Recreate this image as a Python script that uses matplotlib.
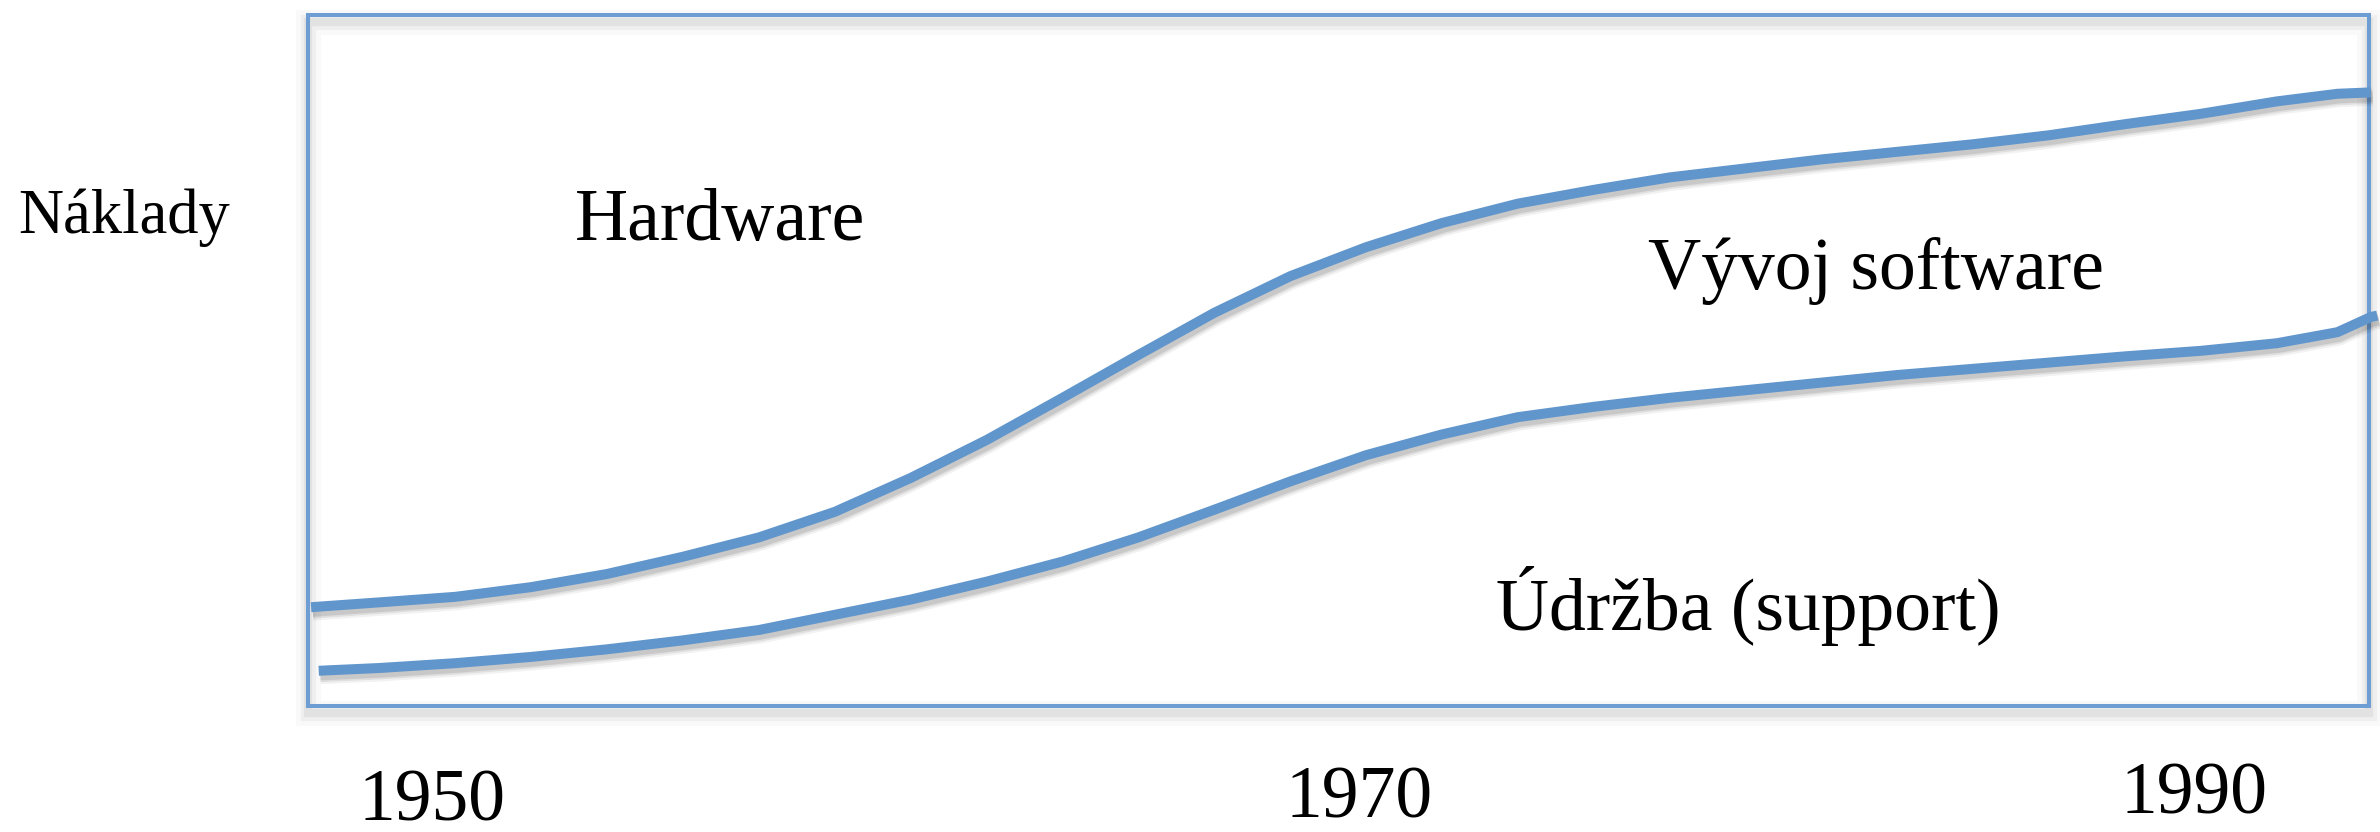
import matplotlib
matplotlib.use("Agg")
import matplotlib.pyplot as plt
from matplotlib import patheffects as pe
from matplotlib.patches import Rectangle
from matplotlib.transforms import blended_transform_factory

plt.rcParams['font.family'] = ['Liberation Serif', 'DejaVu Serif']

# ---- data (normalised time 0-100, cost share 0-100) ----
upper_x = [0.15, 3.47, 7.15, 10.82, 14.50, 18.19, 21.88, 25.56, 29.24, 32.93,
           36.61, 40.29, 43.97, 47.66, 51.34, 55.02, 58.70, 62.39, 66.07, 69.75,
           73.43, 77.11, 80.80, 84.48, 88.16, 91.84, 95.53, 98.47, 100.09]
upper_y = [14.3, 15.0, 15.8, 17.2, 19.1, 21.6, 24.4, 28.1, 33.0, 38.5,
           44.6, 50.8, 56.9, 62.2, 66.4, 69.9, 72.7, 74.7, 76.5, 77.8,
           79.1, 80.2, 81.3, 82.6, 84.2, 85.7, 87.5, 88.6, 88.8]
lower_x = [0.52, 3.47, 7.15, 10.82, 14.50, 18.19, 21.88, 25.56, 29.24, 32.93,
           36.61, 40.29, 43.97, 47.66, 51.34, 55.02, 58.70, 62.39, 66.07, 69.75,
           73.43, 77.11, 80.80, 84.48, 88.16, 91.84, 95.53, 98.47, 100.09, 100.4]
lower_y = [5.1, 5.5, 6.2, 7.1, 8.2, 9.5, 11.0, 13.2, 15.4, 18.0,
           20.9, 24.4, 28.4, 32.5, 36.3, 39.3, 41.8, 43.3, 44.6, 45.7,
           46.8, 47.9, 48.8, 49.7, 50.6, 51.4, 52.5, 54.1, 56.3, 56.5]

year_labels = ['1950', '1970', '1990']
region_labels = ['Hardware', 'Vývoj software', 'Údržba (support)']
y_label = 'Náklady'

# ---- layout ----
W, H = 2380, 832
fig = plt.figure(figsize=(W / 100, H / 100), dpi=100)
L, R, T, B = 308, 2369, 15, 706
ax = fig.add_axes([L / W, (H - B) / H, (R - L) / W, (B - T) / H])
ax.set_xlim(0, 100)
ax.set_ylim(0, 100)
ax.set_axis_off()

line_color = '#6196CC'
box_color = '#6D9DD2'

box_shadow = [
    pe.SimpleLineShadow(offset=(0, -5), shadow_color='k', alpha=0.025, linewidth=18),
    pe.SimpleLineShadow(offset=(0, -5), shadow_color='k', alpha=0.04, linewidth=11),
    pe.SimpleLineShadow(offset=(0, -5), shadow_color='k', alpha=0.05, linewidth=6),
    pe.Normal(),
]
rect = Rectangle((0, 0), 1, 1, transform=ax.transAxes, fill=False,
                 ec=box_color, lw=2.9, clip_on=False, zorder=1,
                 path_effects=box_shadow)
ax.add_patch(rect)

line_shadow = [
    pe.SimpleLineShadow(offset=(1.2, -3.2), shadow_color='k', alpha=0.05, linewidth=13),
    pe.SimpleLineShadow(offset=(1.2, -3.2), shadow_color='k', alpha=0.08, linewidth=10),
    pe.SimpleLineShadow(offset=(1.2, -3.2), shadow_color='k', alpha=0.10, linewidth=7.5),
    pe.Normal(),
]
for xs, ys in [(upper_x, upper_y), (lower_x, lower_y)]:
    ax.plot(xs, ys, color=line_color, lw=7.2, solid_capstyle='butt',
            solid_joinstyle='round', clip_on=False, zorder=3,
            path_effects=line_shadow)

# region labels (data coords, baseline)
region_pos = [(20.0, 67.5), (76.1, 60.3), (69.9, 11.0)]
for txt, (x, y) in zip(region_labels, region_pos):
    ax.text(x, y, txt, fontsize=53, ha='center', va='baseline', color='black')

# year labels under the box
trans = blended_transform_factory(ax.transData, ax.transAxes)
year_pos = [(6.0, -0.166), (51.0, -0.161), (91.5, -0.155)]
for txt, (x, y) in zip(year_labels, year_pos):
    ax.text(x, y, txt, fontsize=53, ha='center', va='baseline', transform=trans,
            color='black')

# y label
fig.text(124 / W, 1 - 233 / H, y_label, fontsize=45, ha='center',
         va='baseline', color='black')

fig.savefig('out.png', dpi=100, facecolor='white')
